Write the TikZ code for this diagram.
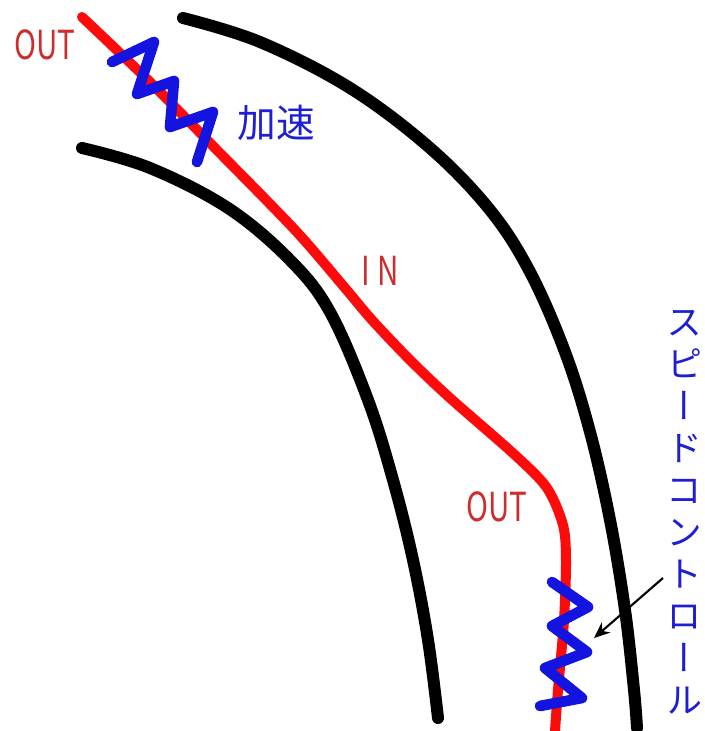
\documentclass[tikz,border=0pt]{standalone}
\usepackage{fontspec}
\newfontfamily\cjk{Noto Sans CJK JP}
\newfontfamily\cjkv[RawFeature=+vert]{Noto Sans CJK JP}
\newfontfamily\latn{Noto Sans CJK JP}
\usetikzlibrary{arrows.meta}
\definecolor{roadred}{RGB}{255,10,10}
\definecolor{txtred}{RGB}{205,45,45}
\definecolor{zigblue}{RGB}{20,20,225}
\definecolor{txtblue}{RGB}{30,30,210}
\tikzset{
  kerb/.style={line width=9pt, black, line cap=round, line join=round},
  racing/.style={line width=7.5pt, roadred, line cap=round, line join=round},
  zig/.style={line width=8pt, zigblue, line cap=round, line join=round},
  redlabel/.style={text=txtred, font=\latn\fontsize{30}{30}\selectfont, inner sep=0pt, xscale=0.74},
  bluelabel/.style={text=txtblue, font=\cjk\fontsize{29}{29}\selectfont, inner sep=0pt},
  pointer/.style={line width=1.6pt, black, -{Stealth[length=12pt,width=10pt]}}
}
\begin{document}
\begin{tikzpicture}[x=0.75pt,y=-0.75pt]
\useasboundingbox (0,0) rectangle (705,731);
% outer kerb
\draw[kerb] plot[smooth,tension=0.6] coordinates {(183,18) (260,42) (350,88) (430,148) (490,210) (530,272) (565,352) (590,432) (610,520) (625,610) (634,690) (637,728)};
% inner kerb
\draw[kerb] plot[smooth,tension=0.6] coordinates {(82,148) (150,168) (228,208) (290,260) (330,312) (368,400) (393,480) (413,560) (428,640) (438,718)};
% racing line
\draw[racing] plot[smooth,tension=0.5] coordinates {(82,17) (150,82) (212,145) (295,230) (345,288) (372,320) (410,360) (450,398) (515,455) (547,488) (563,525) (566,560) (564,620) (558,690) (555,731)};
% zigzags
\draw[zig] (112,62) -- (154,42) -- (137,94) -- (174,81) -- (170,127) -- (213,112) -- (197,162);
\draw[zig] (552,582) -- (588,607) -- (552,626) -- (587,652) -- (545,668) -- (582,698) -- (540,706);
% labels
\node[redlabel] (out1) at (45,45) {OUT};
\node[redlabel] (in) at (380,271) {I\hspace{7pt}N};
\node[redlabel] (out2) at (497,507) {OUT};
\node[bluelabel] (accel) at (276,123) {加速};
\node[text=txtblue, font=\cjkv\fontsize{27}{31.5}\selectfont, inner sep=0pt, align=center] (speed) at (684,512) {ス\\ピ\\ー\\ド\\コ\\ン\\ト\\ロ\\ー\\ル};
\coordinate (arrtail) at (663,578);
\coordinate (arrhead) at (594,638);
\draw[pointer] (arrtail) -- (arrhead);
\end{tikzpicture}
\end{document}
